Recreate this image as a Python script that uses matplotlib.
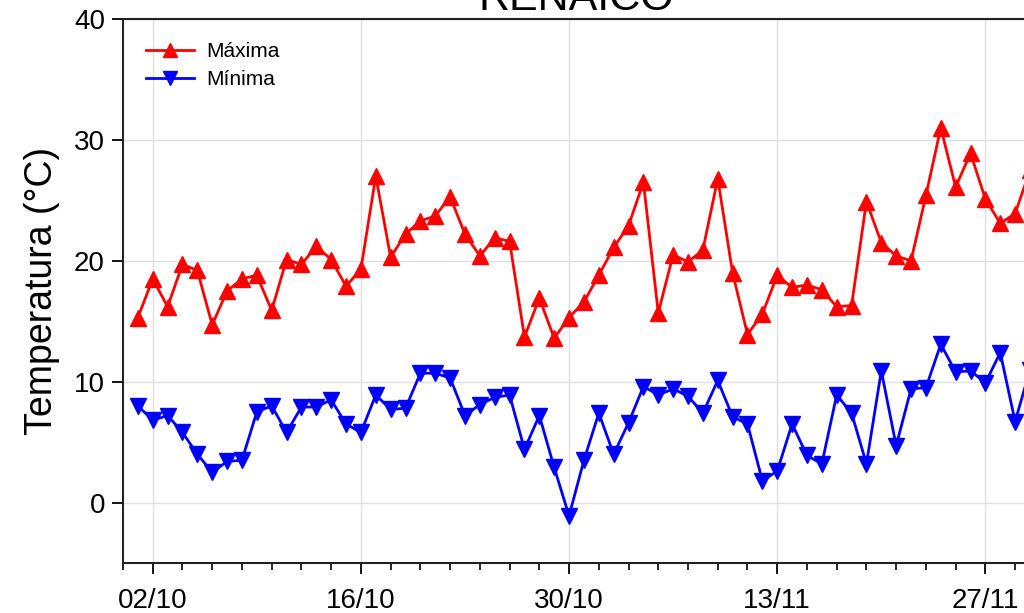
import matplotlib
matplotlib.use("Agg")
import matplotlib.pyplot as plt
import matplotlib.dates as mdates
import pandas as pd
import numpy as np

plt.rcParams['font.family'] = ['Liberation Sans', 'DejaVu Sans']

title = "RENAICO"
ylabel = "Temperatura (°C)"
series_labels = ["Máxima", "Mínima"]

dates = pd.date_range("2019-10-01", "2019-11-30", freq="D")

t_max = [15.3, 18.5, 16.2, 19.7, 19.2, 14.7, 17.5, 18.5, 18.8, 15.9,
         20.1, 19.7, 21.2, 20.1, 17.9, 19.3, 27.0, 20.3, 22.2, 23.3,
         23.7, 25.3, 22.2, 20.4, 21.9, 21.6, 13.7, 16.9, 13.6, 15.3,
         16.6,
         18.8, 21.1, 22.9, 26.5, 15.7, 20.5, 19.9, 20.9, 26.8, 19.0,
         13.9, 15.6, 18.8, 17.8, 18.0, 17.6, 16.2, 16.3, 24.9, 21.5,
         20.4, 20.0, 25.4, 31.0, 26.1, 28.9, 25.1, 23.1, 23.9, 27.5]

t_min = [8.0, 6.8, 7.2, 5.8, 4.0, 2.5, 3.4, 3.5, 7.5, 8.0,
         5.8, 7.9, 7.9, 8.5, 6.5, 5.8, 8.9, 7.7, 7.8, 10.7,
         10.7, 10.3, 7.2, 8.1, 8.7, 8.9, 4.4, 7.2, 2.9, -1.1,
         3.5,
         7.4, 4.0, 6.6, 9.6, 8.9, 9.4, 8.8, 7.4, 10.1, 7.1,
         6.5, 1.8, 2.6, 6.5, 3.9, 3.2, 8.9, 7.4, 3.2, 10.9,
         4.7, 9.4, 9.5, 13.1, 10.8, 10.9, 9.9, 12.4, 6.7, 11.0]

major_tick_dates = pd.to_datetime(["2019-10-02", "2019-10-16", "2019-10-30",
                                   "2019-11-13", "2019-11-27"])
major_tick_labels = ["02/10", "16/10", "30/10", "13/11", "27/11"]
minor_tick_dates = pd.date_range("2019-09-30", "2019-11-30", freq="2D")
yticks = [0, 10, 20, 30, 40]

fig = plt.figure(figsize=(10.24, 6.13), dpi=100)
ax = fig.add_axes([123/1024, 1 - 563/613, (1030 - 123)/1024, (563 - 19)/613])

ax.plot(dates, t_max, color='#ff0000', lw=2.0, marker='^', ms=12,
        label=series_labels[0], zorder=3)
ax.plot(dates, t_min, color='#0000ff', lw=2.0, marker='v', ms=12,
        label=series_labels[1], zorder=3)

ax.set_xlim(pd.Timestamp("2019-09-30"), pd.Timestamp("2019-11-30"))
ax.set_ylim(-5, 40)

ax.set_xticks(mdates.date2num(major_tick_dates))
ax.set_xticklabels(major_tick_labels)
ax.set_xticks(mdates.date2num(minor_tick_dates), minor=True)
ax.set_yticks(yticks)

ax.grid(True, which='major', color='#e0e0e0', lw=1.0, zorder=0)
ax.set_axisbelow(True)

ax.tick_params(axis='both', which='major', labelsize=20, direction='out',
               length=8, width=1.3, colors='black')
ax.tick_params(axis='x', which='major', pad=10)
ax.tick_params(axis='y', which='major', pad=5)
ax.tick_params(axis='x', which='minor', direction='out', length=5, width=1.2)

for s in ax.spines.values():
    s.set_linewidth(1.5)
    s.set_color('#222222')

ax.set_ylabel(ylabel, fontsize=27, labelpad=10)
ax.set_title(title, fontsize=31, pad=5)

ax.legend(loc='upper left', frameon=False, fontsize=15, handlelength=2.3,
          handletextpad=0.6, labelspacing=0.45, borderaxespad=0.7,
          markerscale=0.85)

fig.savefig("out.png", dpi=100)
